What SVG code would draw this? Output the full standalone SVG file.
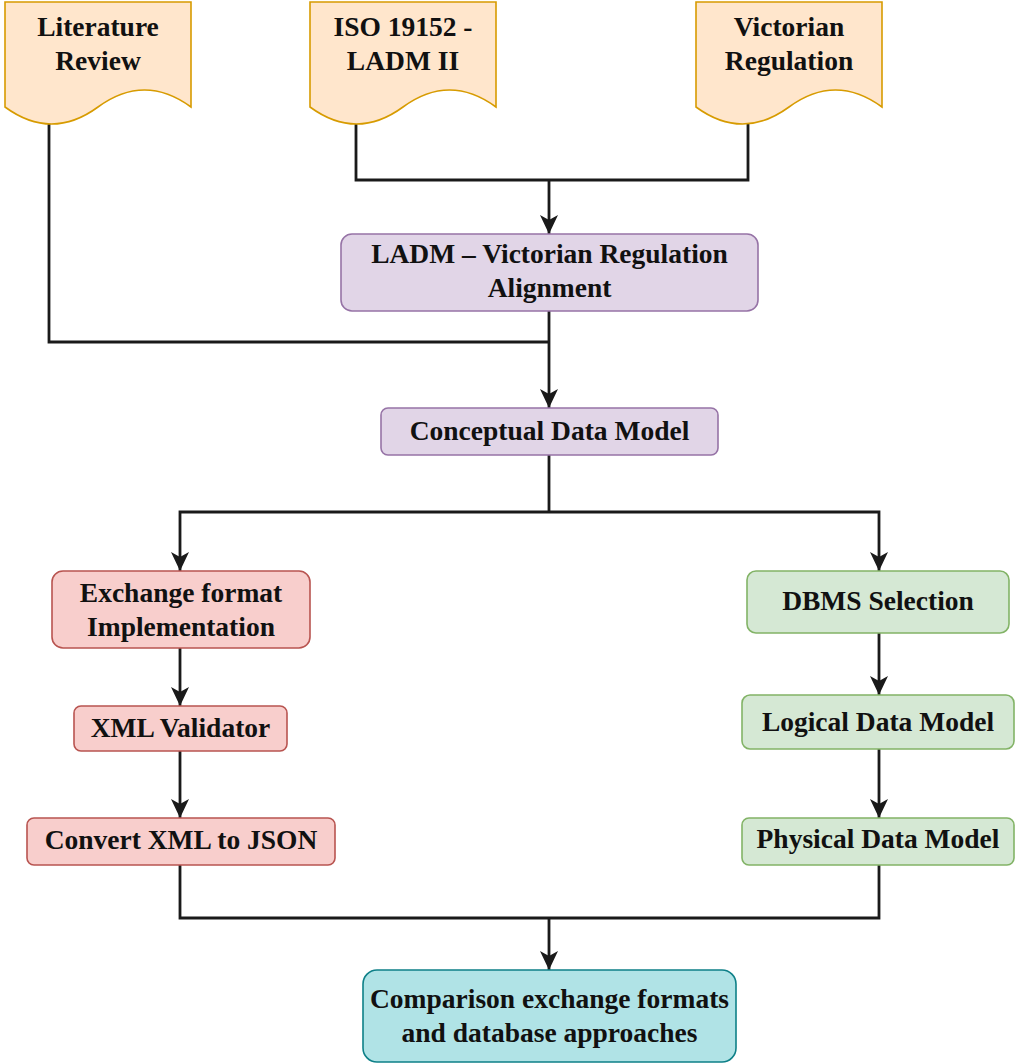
<svg xmlns="http://www.w3.org/2000/svg" width="1015" height="1064" viewBox="0 0 1015 1064">
<style>
  text { font-family: 'Liberation Serif', 'DejaVu Serif', serif; font-weight: 700; font-size: 27.5px; fill: #111; text-anchor: middle; }
  .doc { fill: #ffe6cc; stroke: #d79b00; stroke-width: 1.6; }
  .purple { fill: #e1d5e7; stroke: #9673a6; stroke-width: 1.6; }
  .red { fill: #f8cecc; stroke: #b85450; stroke-width: 1.6; }
  .green { fill: #d5e8d4; stroke: #82b366; stroke-width: 1.6; }
  .teal { fill: #b0e3e6; stroke: #0e8088; stroke-width: 1.6; }
  .conn { fill: none; stroke: #1a1a1a; stroke-width: 2.8; }
  .arr { marker-end: url(#arrow); }
</style>
<defs>
  <marker id="arrow" markerUnits="userSpaceOnUse" markerWidth="22" markerHeight="22" viewBox="0 0 22 22" refX="19" refY="11" orient="auto">
    <path d="M0,2 L19,11 L0,20 L5,11 Z" fill="#1a1a1a"/>
  </marker>
</defs>
<rect width="1015" height="1064" fill="#ffffff"/>

<g id="connectors">
  <path class="conn" d="M49,124 V342 H549"/>
  <path class="conn" d="M356,124 V180 H748 V124"/>
  <path class="conn arr" d="M549,180 V234"/>
  <path class="conn arr" d="M549,311 V408"/>
  <path class="conn" d="M549,455 V512"/>
  <path class="conn arr" d="M549,512 H180 V571"/>
  <path class="conn arr" d="M549,512 H879 V571"/>
  <path class="conn arr" d="M180,648 V706"/>
  <path class="conn arr" d="M180,751 V818"/>
  <path class="conn arr" d="M879,633 V695"/>
  <path class="conn arr" d="M879,749 V818"/>
  <path class="conn" d="M180,865 V918 H879 V865"/>
  <path class="conn arr" d="M549,918 V970"/>
</g>

<g id="literature-review">
  <path class="doc" d="M5,2 H191 V107 Q144.5,73 98,107 Q51.5,141 5,107 Z"/>
  <text x="98" y="36">Literature</text>
  <text x="98" y="70">Review</text>
</g>

<g id="iso-19152">
  <path class="doc" d="M310,2 H496 V107 Q449.5,73 403,107 Q356.5,141 310,107 Z"/>
  <text x="403" y="36">ISO 19152 -</text>
  <text x="403" y="70">LADM II</text>
</g>

<g id="victorian-regulation">
  <path class="doc" d="M696,2 H882 V107 Q835.5,73 789,107 Q742.5,141 696,107 Z"/>
  <text x="789" y="36">Victorian</text>
  <text x="789" y="70">Regulation</text>
</g>

<g id="ladm-alignment">
  <rect class="purple" x="341" y="234" width="417" height="77" rx="11"/>
  <text x="549.5" y="263">LADM – Victorian Regulation</text>
  <text x="549.5" y="297">Alignment</text>
</g>

<g id="conceptual-data-model">
  <rect class="purple" x="381" y="408" width="337" height="47" rx="7"/>
  <text x="549.5" y="440">Conceptual Data Model</text>
</g>

<g id="exchange-format">
  <rect class="red" x="52" y="571" width="258" height="77" rx="11"/>
  <text x="181" y="602">Exchange format</text>
  <text x="181" y="636">Implementation</text>
</g>

<g id="xml-validator">
  <rect class="red" x="74" y="706" width="213" height="45" rx="7"/>
  <text x="180.5" y="737">XML Validator</text>
</g>

<g id="convert-xml-json">
  <rect class="red" x="27" y="818" width="308" height="47" rx="7"/>
  <text x="181" y="849">Convert XML to JSON</text>
</g>

<g id="dbms-selection">
  <rect class="green" x="747" y="571" width="262" height="62" rx="9"/>
  <text x="878" y="610">DBMS Selection</text>
</g>

<g id="logical-data-model">
  <rect class="green" x="742" y="695" width="272" height="54" rx="8"/>
  <text x="878" y="731">Logical Data Model</text>
</g>

<g id="physical-data-model">
  <rect class="green" x="742" y="818" width="272" height="47" rx="7"/>
  <text x="878" y="848">Physical Data Model</text>
</g>

<g id="comparison">
  <rect class="teal" x="363" y="970" width="373" height="92" rx="14"/>
  <text x="549.5" y="1008">Comparison exchange formats</text>
  <text x="549.5" y="1042">and database approaches</text>
</g>
</svg>
